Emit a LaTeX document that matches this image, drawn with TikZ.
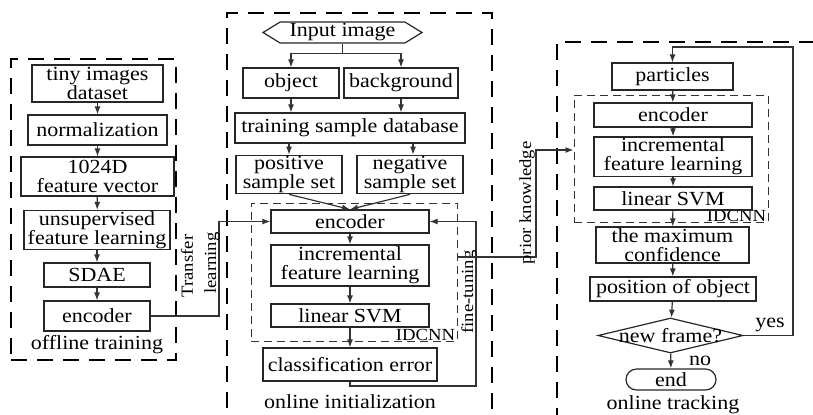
\documentclass[tikz,border=0pt]{standalone}
\usepackage{fontspec}
\setmainfont{Liberation Serif}[FakeStretch=1.1]
\usetikzlibrary{arrows.meta,shapes.geometric,shapes.symbols,shapes.misc,fit}

\tikzset{
  box/.style={draw=black!85, line width=0.6pt, align=center, inner sep=0.5pt,
    font=\fontsize{10}{9.5}\selectfont},
  panel/.style={draw, line width=0.9pt, dash pattern=on 8pt off 5pt, inner sep=0pt},
  idcnn/.style={draw=black!80, line width=0.5pt, dash pattern=on 4pt off 2.5pt, inner sep=0pt},
  arr/.style={draw=black!80, line width=0.6pt, -{Latex[length=4pt,width=3pt]}},
  line/.style={draw=black!80, line width=0.6pt},
  lab/.style={inner sep=0pt, font=\fontsize{8.5}{9}\selectfont},
  paneltitle/.style={inner sep=0pt, font=\fontsize{10}{10}\selectfont}
}

\begin{document}
\begin{tikzpicture}[x=0.5pt, y=-0.5pt]
  \useasboundingbox (0,0) rectangle (813,414);
  \clip (0,0) rectangle (813,414);

  % offline training
  \node[panel, fit={(11,59) (176,360)}] (offline) {};
  \node[box, minimum width=65.5pt, minimum height=18.5pt] (tiny) at (97.5,83.5) {tiny images\\dataset};
  \node[box, minimum width=69.5pt, minimum height=15pt] (norm) at (97.5,130) {normalization};
  \node[box, minimum width=76.5pt, minimum height=19.5pt] (vec) at (97.5,176.5) {1024D\\feature vector};
  \node[box, minimum width=73pt, minimum height=19pt] (unsup) at (97,230) {unsupervised\\feature learning};
  \node[box, minimum width=53pt, minimum height=12pt] (sdae) at (97,275) {SDAE};
  \node[box, minimum width=53pt, minimum height=15pt] (encL) at (97,316) {encoder};
  \node[paneltitle] (offlab) at (97,345) {offline training};
  \draw[arr] (tiny) -- (norm);
  \draw[arr] (norm) -- (vec);
  \draw[arr] (vec) -- (unsup);
  \draw[arr] (unsup) -- (sdae);
  \draw[arr] (sdae) -- (encL);

  % online initialization
  \node[panel, fit={(227,13) (492,430)}] (online) {};
  \node[box, signal, signal to=west and east, signal pointer angle=63,
    minimum width=79.5pt, minimum height=10.5pt] (input) at (342.5,32.5) {Input image};
  \node[box, minimum width=48pt, minimum height=15pt] (object) at (291,83) {object};
  \node[box, minimum width=57pt, minimum height=15pt] (backgr) at (401,83) {background};
  \node[box, minimum width=115pt, minimum height=15pt] (tsd) at (350,128) {training sample database};
  \node[box, minimum width=53pt, minimum height=17.5pt] (pos) at (289,174.5) {positive\\sample set};
  \node[box, minimum width=53pt, minimum height=17.5pt] (neg) at (410,174.5) {negative\\sample set};
  \node[idcnn, fit={(251,203) (457,341)}] (idM) {};
  \node[lab, anchor=base east] (idMlab) at ([xshift=-1pt,yshift=0.5pt]idM.south east) {IDCNN};
  \node[box, minimum width=79pt, minimum height=11.5pt] (encM) at (350,221.5) {encoder};
  \node[box, minimum width=79pt, minimum height=20.5pt] (incM) at (350,265.5) {incremental\\feature learning};
  \node[box, minimum width=79pt, minimum height=11.5pt] (svmM) at (350,315.5) {linear SVM};
  \node[box, minimum width=87pt, minimum height=16.5pt] (cls) at (350,364.5) {classification error};
  \node[paneltitle] (onlab) at (350,402) {online initialization};
  \draw[line] (input.south) -- ++(0,9.5) coordinate (split);
  \draw[arr] (split) -| (object.north);
  \draw[arr] (split) -| (backgr.north);
  \draw[arr] (object.south) -- (object.south |- tsd.north);
  \draw[arr] (backgr.south) -- (backgr.south |- tsd.north);
  \draw[arr] (tsd.south -| pos) -- (pos.north);
  \draw[arr] ([xshift=1.5pt]tsd.south -| neg) -- ([xshift=1.5pt]neg.north);
  \draw[arr] (pos.south) -- (encM.north);
  \draw[arr] (neg.south) -- (encM.north);
  \draw[arr] (encM) -- (incM);
  \draw[arr] (incM) -- (svmM);
  \draw[arr] (svmM) -- (cls);
  % fine-tuning loop
  \coordinate (ft) at (476,386);
  \draw[arr] (cls.south) |- (ft) |- (encM.east);
  \node[lab, rotate=90] (ftlab) at (469,292) {fine-tuning};
  % transfer learning
  \coordinate (tl) at (219,316);
  \draw[arr] (encL.east) -- (tl) |- (encM.west);
  \node[lab, rotate=90] (tllab1) at (187,266) {Transfer};
  \node[lab, rotate=90] (tllab2) at (212,263) {learning};

  % online tracking
  \node[panel, fit={(557,42) (830,430)}] (tracking) {};
  \node[box, minimum width=60.5pt, minimum height=13.5pt] (part) at (672.5,76.5) {particles};
  \node[idcnn, fit={(574,95) (768,222)}] (idR) {};
  \node[lab, anchor=base east] (idRlab) at ([xshift=-1pt,yshift=0.5pt]idR.south east) {IDCNN};
  \node[box, minimum width=79pt, minimum height=12pt] (encR) at (673,115) {encoder};
  \node[box, minimum width=79pt, minimum height=17.5pt] (incR) at (673,156.5) {incremental\\feature learning};
  \node[box, minimum width=79pt, minimum height=11.5pt] (svmR) at (673,198.5) {linear SVM};
  \node[box, minimum width=76.5pt, minimum height=18pt] (conf) at (672.5,245) {the maximum\\confidence};
  \node[box, minimum width=83pt, minimum height=12pt] (posR) at (673,289) {position of object};
  \node[box, diamond, minimum width=72.5pt, minimum height=17.5pt, inner sep=0pt]
    (frame) at (670.5,335.5) {\makebox[0pt]{new frame?}};
  \node[box, rounded rectangle, minimum width=46pt, minimum height=10.5pt] (end) at (671,379.5) {end};
  \node[paneltitle] (trlab) at (673,405) {online tracking};
  \draw[arr] (part) -- (encR);
  \draw[arr] (encR) -- (incR);
  \draw[arr] (incR) -- (svmR);
  \draw[arr] (svmR) -- (conf);
  \draw[arr] (conf) -- (posR);
  \draw[arr] (posR) -- (frame);
  \draw[arr] (frame) -- (end);
  \node[lab, font=\fontsize{10}{10}\selectfont] (nolab) at (700,361) {no};
  % yes loop
  \coordinate (yes) at (793,47);
  \draw[arr] (frame.east) -| (yes) -| (part.north);
  \node[lab, font=\fontsize{10}{10}\selectfont] (yeslab) at (770,325) {yes};
  % prior knowledge
  \coordinate (pk1) at (536,257);
  \coordinate (pk2) at (536,150);
  \draw[arr] (idM.east |- pk1) -- (pk1) -- (pk2) -- (idR.west |- pk2);
  \node[lab, rotate=90] (pklab) at (527,203) {prior knowledge};
\end{tikzpicture}
\end{document}
